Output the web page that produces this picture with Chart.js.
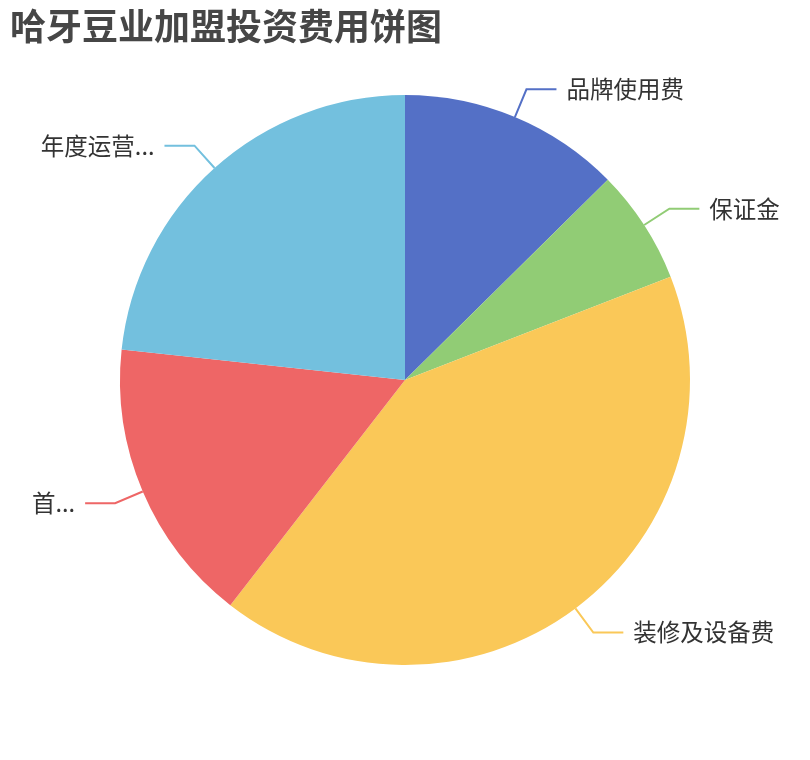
<!DOCTYPE html>
<html>
<head>
<meta charset="utf-8">
<script src="https://cdn.jsdelivr.net/npm/chart.js@4"></script>
<style>
  html, body { margin: 0; padding: 0; background: #fff; }
  #wrap { width: 810px; height: 760px; position: relative; }
</style>
</head>
<body>
<div id="wrap"><canvas id="pieChart"></canvas></div>
<script>
// Chart data
const chartTitle = '哈牙豆业加盟投资费用饼图';
const categories = ['品牌使用费', '保证金', '装修及设备费', '首...', '年度运营...'];
const costValues = [12.6, 6.5, 41.4, 16.2, 23.3];
const sliceColors = ['#5470c6', '#91cc75', '#fac858', '#ee6666', '#73c0de'];

const fontFamily = '"Noto Sans CJK SC", "Noto Sans", sans-serif';

// Title drawn at top-left
const titlePlugin = {
  id: 'cornerTitle',
  afterDraw(chart) {
    const ctx = chart.ctx;
    ctx.save();
    ctx.font = 'bold 36px ' + fontFamily;
    ctx.fillStyle = '#464646';
    ctx.textAlign = 'left';
    ctx.textBaseline = 'middle';
    ctx.fillText(chartTitle, 10, 26);
    ctx.restore();
  }
};

// Outside labels with leader lines
const labelPlugin = {
  id: 'leaderLabels',
  afterDatasetsDraw(chart) {
    const ctx = chart.ctx;
    const meta = chart.getDatasetMeta(0);
    ctx.save();
    ctx.font = '23.5px ' + fontFamily;
    ctx.lineWidth = 2;
    meta.data.forEach((arc, i) => {
      const p = arc.getProps(['x', 'y', 'startAngle', 'endAngle', 'outerRadius'], true);
      const mid = (p.startAngle + p.endAngle) / 2;
      const cos = Math.cos(mid), sin = Math.sin(mid);
      const x0 = p.x + cos * p.outerRadius;
      const y0 = p.y + sin * p.outerRadius;
      const x1 = p.x + cos * (p.outerRadius + 30);
      const y1 = p.y + sin * (p.outerRadius + 30);
      const dir = cos >= 0 ? 1 : -1;
      const x2 = x1 + dir * 30;
      ctx.strokeStyle = sliceColors[i];
      ctx.beginPath();
      ctx.moveTo(x0, y0);
      ctx.lineTo(x1, y1);
      ctx.lineTo(x2, y1);
      ctx.stroke();
      ctx.fillStyle = '#333';
      ctx.textBaseline = 'middle';
      ctx.textAlign = dir > 0 ? 'left' : 'right';
      ctx.fillText(categories[i], x2 + dir * 10, y1);
    });
    ctx.restore();
  }
};

new Chart(document.getElementById('pieChart'), {
  type: 'pie',
  data: {
    labels: categories,
    datasets: [{
      data: costValues,
      backgroundColor: sliceColors,
      borderWidth: 0,
      hoverOffset: 0
    }]
  },
  options: {
    responsive: true,
    maintainAspectRatio: false,
    animation: false,
    layout: { padding: { left: 120, right: 120, top: 95, bottom: 95 } },
    plugins: {
      legend: { display: false },
      title: { display: false },
      tooltip: { enabled: false }
    }
  },
  plugins: [titlePlugin, labelPlugin]
});
</script>
</body>
</html>
